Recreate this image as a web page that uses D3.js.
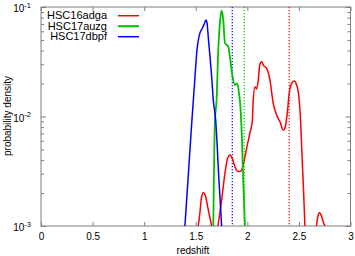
<!DOCTYPE html>
<html><head><meta charset="utf-8">
<script src="https://cdn.jsdelivr.net/npm/d3@7"></script>
<style>
body{margin:0;background:#fff;}
text{font-family:"Liberation Sans",Arial,sans-serif;fill:#000;}
</style></head>
<body><svg id="c" width="355" height="256"></svg>
<script>
// ---- data ----
const seriesNames = ["HSC16adga", "HSC17auzg", "HSC17dbpf"];
const seriesColors = ["#ff0000", "#00c000", "#0000ff"];
// HSC16adga (red) – three separate segments above the 1e-3 floor
const redZ1 = [1.524, 1.541, 1.555, 1.573, 1.594, 1.618, 1.654];
const redP1 = [0.001, 0.00134, 0.0018, 0.00201, 0.00188, 0.00146, 0.001];
const redZ2 = [1.715, 1.751, 1.783, 1.809, 1.831, 1.854, 1.880, 1.909, 1.928, 1.945, 1.977, 2.003, 2.025, 2.049, 2.057, 2.074, 2.090, 2.106, 2.122, 2.139, 2.154, 2.187, 2.219, 2.251, 2.284, 2.316, 2.348, 2.364, 2.387, 2.406, 2.429, 2.452, 2.478, 2.503, 2.519, 2.532, 2.546, 2.558];
const redP2 = [0.001, 0.00173, 0.00303, 0.00415, 0.00445, 0.00415, 0.00348, 0.00315, 0.00315, 0.00324, 0.0043, 0.00569, 0.00703, 0.0093, 0.01416, 0.0187, 0.0178, 0.0216, 0.0301, 0.0316, 0.0295, 0.0275, 0.0216, 0.0132, 0.0103, 0.00897, 0.00753, 0.0078, 0.0107, 0.0163, 0.0201, 0.0211, 0.0194, 0.01416, 0.00807, 0.0040, 0.00199, 0.001];
const redZ3 = [2.670, 2.684, 2.699, 2.713, 2.736, 2.752];
const redP3 = [0.001, 0.00123, 0.00132, 0.00127, 0.00109, 0.001];
// HSC17auzg (green)
const greenZ = [1.670, 1.686, 1.702, 1.718, 1.734, 1.751, 1.767, 1.783, 1.815, 1.831, 1.854, 1.880, 1.902, 1.919, 1.935, 1.948, 1.960, 1.977];
const greenP = [0.001, 0.0093, 0.01416, 0.0405, 0.0714, 0.0925, 0.076, 0.0469, 0.0434, 0.0352, 0.0239, 0.0194, 0.0201, 0.0164, 0.01146, 0.0061, 0.0026, 0.001];
// HSC17dbpf (blue)
const blueZ = [1.395, 1.429, 1.463, 1.487, 1.512, 1.541, 1.560, 1.579, 1.599, 1.609, 1.621, 1.654, 1.670, 1.693, 1.725, 1.751];
const blueP = [0.001, 0.00305, 0.0093, 0.0194, 0.0405, 0.058, 0.063, 0.0686, 0.076, 0.072, 0.0536, 0.0231, 0.0142, 0.0093, 0.0026, 0.001];
// vertical dotted markers (red, green, blue)
const markerZ = [2.406, 1.970, 1.854];
const xTicks = [0, 0.5, 1, 1.5, 2, 2.5, 3];
const yMajor = [0.001, 0.01, 0.1];
const yMajorExp = ["-3", "-2", "-1"];

// ---- layout ----
const svg = d3.select("#c");
const L = 41, R = 350.5, T = 7, B = 226;
const x = d3.scaleLinear().domain([0, 3]).range([L, R]);
const y = d3.scaleLog().domain([1e-3, 1e-1]).range([B, T]);
const frame = "#7f7f7f";

svg.append("defs").append("clipPath").attr("id", "clip")
  .append("rect").attr("x", L).attr("y", T).attr("width", R - L).attr("height", B - T);

// axes
const gx = svg.append("g").attr("transform", `translate(0,${B})`)
  .call(d3.axisBottom(x).tickValues(xTicks).tickSize(-4).tickPadding(6.4).tickFormat(d3.format("")));
const gxt = svg.append("g").attr("transform", `translate(0,${T})`)
  .call(d3.axisTop(x).tickValues(xTicks).tickSize(-4).tickFormat(""));
const minor = y.ticks().filter(v => !yMajor.some(m => Math.abs(m - v) < 1e-12));
const gy = svg.append("g").attr("transform", `translate(${L},0)`)
  .call(d3.axisLeft(y).tickValues(yMajor).tickSize(-5).tickPadding(10).tickFormat(""));
svg.append("g").attr("transform", `translate(${L},0)`)
  .call(d3.axisLeft(y).tickValues(minor).tickSize(-3).tickFormat(""));
svg.append("g").attr("transform", `translate(${R},0)`)
  .call(d3.axisRight(y).tickValues(yMajor).tickSize(-5).tickFormat(""));
svg.append("g").attr("transform", `translate(${R},0)`)
  .call(d3.axisRight(y).tickValues(minor).tickSize(-3).tickFormat(""));
svg.selectAll(".domain").remove();
svg.selectAll(".tick line").attr("stroke", frame);
gx.selectAll("text").attr("font-size", 10).attr("font-family", "Liberation Sans, Arial, sans-serif").attr("fill", "#000");

// y labels with superscripts
gy.selectAll(".tick").each(function(d, i) {
  const t = d3.select(this).append("text")
    .attr("x", -10).attr("y", 4.5).attr("text-anchor", "end")
    .attr("font-size", 10).attr("fill", "#000");
  t.append("tspan").text("10");
  t.append("tspan").attr("font-size", 7.5).attr("dy", -4.5).text(yMajorExp[yMajor.indexOf(d)]);
});

svg.append("rect").attr("x", L).attr("y", T).attr("width", R - L).attr("height", B - T)
  .attr("fill", "none").attr("stroke", frame).attr("stroke-width", 1);

// axis titles
svg.append("text").attr("x", 193).attr("y", 254).attr("text-anchor", "middle")
  .attr("font-size", 10).text("redshift");
svg.append("text").attr("transform", "translate(11,116) rotate(-90)")
  .attr("text-anchor", "middle").attr("font-size", 10).text("probability density");

// marker lines
const plot = svg.append("g").attr("clip-path", "url(#clip)");
markerZ.forEach((z, i) => {
  plot.append("line").attr("x1", x(z)).attr("x2", x(z)).attr("y1", T).attr("y2", B)
    .attr("stroke", seriesColors[i]).attr("stroke-width", 1.2).attr("stroke-dasharray", "1.2,1.8");
});

const line = d3.line().x(d => x(d[0])).y(d => y(d[1])).curve(d3.curveMonotoneX);
const zip = (a, b) => a.map((v, i) => [v, b[i]]);
const curves = [
  {d: zip(redZ1, redP1), c: 0, w: 1.5},
  {d: zip(redZ2, redP2), c: 0, w: 1.5},
  {d: zip(redZ3, redP3), c: 0, w: 1.5},
  {d: zip(greenZ, greenP), c: 1, w: 1.8},
  {d: zip(blueZ, blueP), c: 2, w: 1.5}
];
curves.forEach(s => {
  plot.append("path").attr("d", line(s.d)).attr("fill", "none")
    .attr("stroke", seriesColors[s.c]).attr("stroke-width", s.w).attr("stroke-linejoin", "round");
});

// legend
const legW = [1.5, 2, 1.5];
seriesNames.forEach((n, i) => {
  const yy = 15.7 + i * 10.5;
  svg.append("text").attr("x", 107).attr("y", yy + 3.6).attr("text-anchor", "end")
    .attr("font-size", 11).text(n);
  svg.append("line").attr("x1", 118).attr("x2", 139).attr("y1", yy).attr("y2", yy)
    .attr("stroke", seriesColors[i]).attr("stroke-width", legW[i]);
});
</script></body></html>
